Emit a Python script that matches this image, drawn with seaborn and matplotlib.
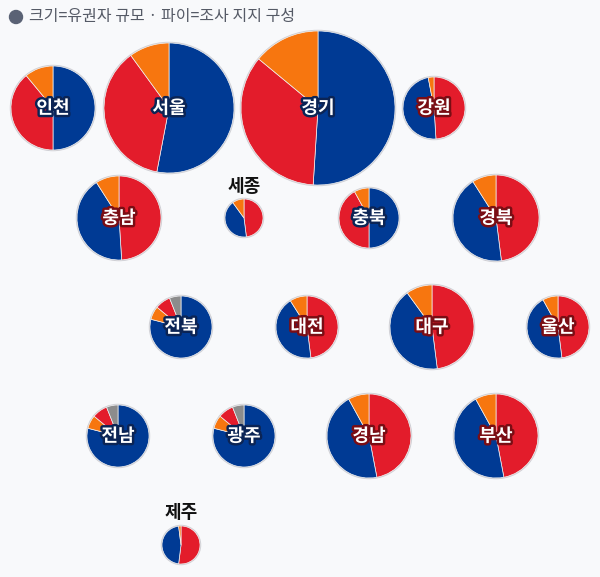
import matplotlib
matplotlib.use("Agg")
import matplotlib.pyplot as plt
import matplotlib.patheffects as pe
import seaborn as sns

sns.set_theme(style="white")
plt.rcParams['font.family'] = ['Noto Sans CJK KR', 'DejaVu Sans']

regions = ["인천", "서울", "경기", "강원", "충남", "세종", "충북", "경북",
           "전북", "대전", "대구", "울산", "전남", "광주", "경남", "부산", "제주"]
# shares in drawing order (clockwise from 12 o'clock)
shares = [
    [50, 39, 11], [53, 37, 10], [51, 35, 14], [49, 48, 3],
    [49, 42, 9], [48, 42, 10], [50, 42, 8], [48, 43, 9],
    [79, 7, 8, 6], [48, 43, 9], [48, 42, 10], [48, 44, 8],
    [79, 7, 8, 6], [79, 7, 8, 6], [47, 45, 8], [47, 45, 8], [52, 46, 2],
]
parties = [
    "BRO", "BRO", "BRO", "RBO", "RBO", "RBO", "BRO", "RBO",
    "BORG", "RBO", "RBO", "RBO", "BORG", "BORG", "RBO", "RBO", "RBO",
]
# layout (pixel centre, radius)
px = [53, 169, 318, 434, 119, 244, 369, 496, 181, 307, 432, 558, 118, 244, 369, 496, 181]
py = [108, 108, 108, 108, 218, 218, 218, 218, 327, 327, 327, 327, 436, 436, 436, 436, 545]
pr = [42, 65, 77, 31, 42, 19, 30, 43, 31, 31, 42, 31, 31, 31, 42, 42, 19]

cmap = {"B": "#003a94", "R": "#e31c2b", "O": "#f7760f", "G": "#8c8c8c"}
dark = {"B": "#0b2455", "R": "#7a0d14"}

W, H = 600, 577
fig = plt.figure(figsize=(6, 5.77), dpi=100)
fig.patch.set_facecolor("#f8f9fb")
ax = fig.add_axes([0, 0, 1, 1])
ax.set_facecolor("#f8f9fb")

for name, s, p, x, y, r in zip(regions, shares, parties, px, py, pr):
    cy = H - y
    ax.pie(s, colors=[cmap[c] for c in p], center=(x, cy), radius=r,
           startangle=90, counterclock=False,
           wedgeprops=dict(linewidth=0.5, edgecolor="#f0f0f0"))
    ax.add_patch(plt.Circle((x, cy), r + 0.6, fill=False, ec="#cfcfd4", lw=0.9, zorder=0))
    if r < 25:
        ax.text(x, cy + r + 13, name, ha="center", va="center", fontsize=13,
                fontweight="bold", color="#111111")
    else:
        ax.text(x, cy, name, ha="center", va="center", fontsize=13,
                fontweight="bold", color="white",
                path_effects=[pe.withStroke(linewidth=3.5, foreground=dark[p[0]])])

ax.add_patch(plt.Circle((16, H - 17), 6.5, color="#5a6275"))
ax.text(29, H - 17, "크기=유권자 규모 · 파이=조사 지지 구성", ha="left", va="center",
        fontsize=11.5, color="#555a66")

ax.set_xlim(0, W)
ax.set_ylim(0, H)
ax.set_aspect("equal")
ax.axis("off")
fig.savefig("out.png", dpi=100, facecolor=fig.get_facecolor())
